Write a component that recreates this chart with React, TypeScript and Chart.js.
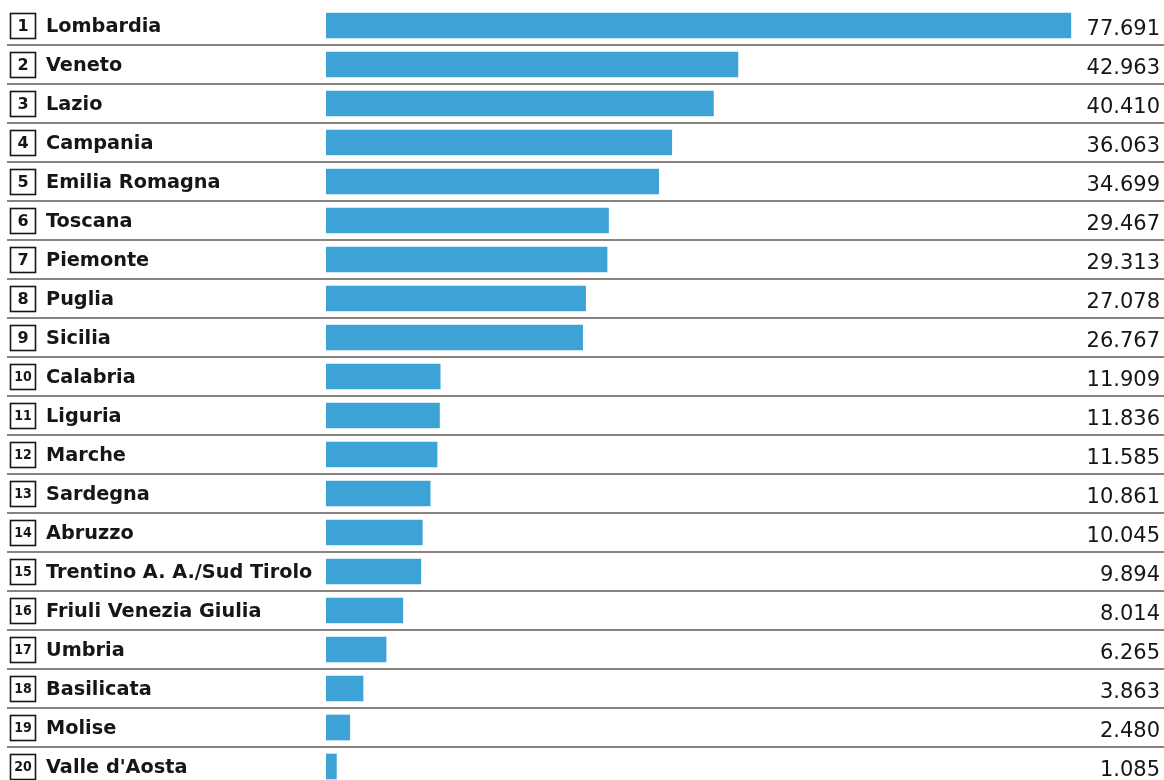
import React, { useEffect, useRef } from "react";
import { Chart, registerables } from "chart.js";

Chart.register(...registerables);

const regions = [
  "Lombardia", "Veneto", "Lazio", "Campania", "Emilia Romagna", "Toscana", "Piemonte",
  "Puglia", "Sicilia", "Calabria", "Liguria", "Marche", "Sardegna", "Abruzzo",
  "Trentino A. A./Sud Tirolo", "Friuli Venezia Giulia", "Umbria", "Basilicata", "Molise",
  "Valle d'Aosta",
];
const values = [
  77691, 42963, 40410, 36063, 34699, 29467, 29313, 27078, 26767, 11909, 11836, 11585,
  10861, 10045, 9894, 8014, 6265, 3863, 2480, 1085,
];
const axisMax = 80000;

const BAR = "#3d a2d6".replace(" ", "");
const INK = "#161616";
const RULE = "#655a52";

function fmt(v: number): string {
  const s = String(v);
  return s.length > 3 ? s.slice(0, s.length - 3) + "." + s.slice(s.length - 3) : s;
}

const overlay = {
  id: "overlay",
  beforeDatasetsDraw(chart: any) {
    const ctx = chart.ctx as CanvasRenderingContext2D;
    const y = chart.scales.y;
    ctx.save();
    ctx.strokeStyle = RULE;
    ctx.lineWidth = 1.6;
    for (let i = 0; i < regions.length - 1; i++) {
      const yy = (y.getPixelForValue(i) + y.getPixelForValue(i + 1)) / 2;
      ctx.beginPath();
      ctx.moveTo(7, yy);
      ctx.lineTo(chart.width, yy);
      ctx.stroke();
    }
    ctx.restore();
  },
  afterDatasetsDraw(chart: any) {
    const ctx = chart.ctx as CanvasRenderingContext2D;
    const y = chart.scales.y;
    ctx.save();
    regions.forEach((name, i) => {
      const cy = y.getPixelForValue(i);
      // box
      ctx.strokeStyle = INK;
      ctx.lineWidth = 1.6;
      ctx.strokeRect(10.5, cy - 12, 25, 25);
      ctx.fillStyle = INK;
      ctx.textBaseline = "middle";
      ctx.textAlign = "center";
      const num = String(i + 1);
      ctx.font = num.length > 1 ? "bold 14px 'DejaVu Sans Condensed', 'DejaVu Sans'" : "bold 16px 'DejaVu Sans'";
      ctx.fillText(num, 23, cy + 1);
      // label
      ctx.textAlign = "left";
      ctx.font = "bold 19.3px 'DejaVu Sans'";
      ctx.fillText(name, 46, cy + 1);
      // value
      ctx.textAlign = "right";
      ctx.font = "21px 'DejaVu Sans'";
      ctx.fillText(fmt(values[i]), 1160, cy + 4);
    });
    ctx.restore();
  },
};

export default function App() {
  const ref = useRef<HTMLCanvasElement | null>(null);
  useEffect(() => {
    if (!ref.current) return;
    const chart = new Chart(ref.current, {
      type: "bar",
      data: {
        labels: regions,
        datasets: [
          {
            data: values,
            backgroundColor: BAR,
            borderWidth: 0,
            barThickness: 25,
          },
        ],
      },
      options: {
        indexAxis: "y",
        animation: false,
        responsive: false,
        devicePixelRatio: 1,
        layout: { padding: { left: 326, right: 71, top: 6, bottom: 4 } },
        plugins: { legend: { display: false }, tooltip: { enabled: false } },
        scales: {
          x: { display: false, min: 0, max: axisMax },
          y: { display: false },
        },
      },
      plugins: [overlay],
    });
    return () => chart.destroy();
  }, []);
  return (
    <div style={{ position: "fixed", left: 0, top: 0, width: 1164, height: 780, overflow: "hidden", background: "#fff" }}>
      <canvas ref={ref} width={1164} height={790} />
    </div>
  );
}
